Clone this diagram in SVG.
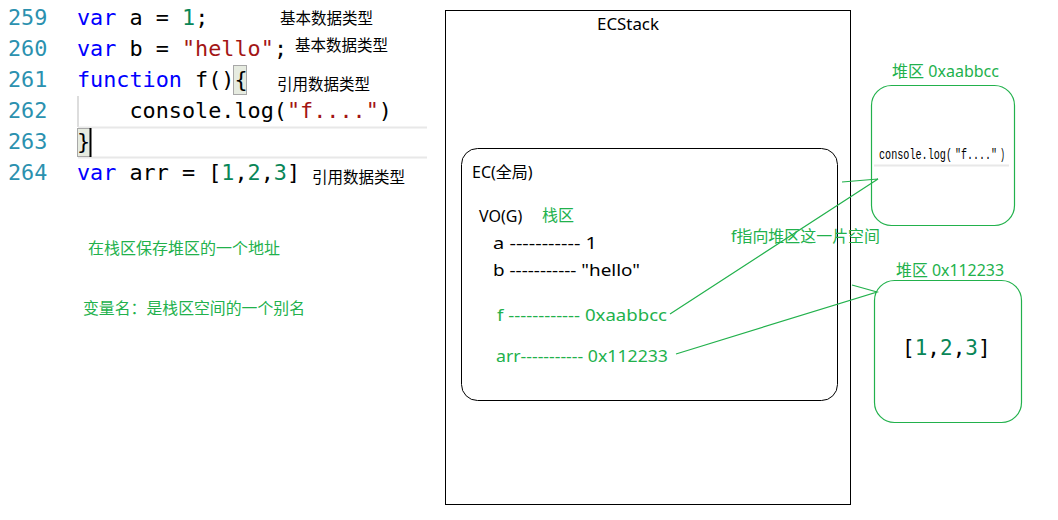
<svg xmlns="http://www.w3.org/2000/svg" width="1058" height="520" viewBox="0 0 1058 520">
<style>
.code{font-family:"DejaVu Sans Mono","Liberation Mono",monospace;font-size:21.8px;fill:#000}
.ln{fill:#2b91af}
.kw{fill:#0000ff}
.num{fill:#098658}
.str{fill:#a31515}
.note{font-family:"Noto Sans CJK SC","Noto Sans",sans-serif;font-size:15.5px;fill:#000}
.lbl{font-family:"Noto Sans","Noto Sans CJK SC",sans-serif;font-size:16px;fill:#000}
.mini{font-family:"Liberation Mono",monospace;font-size:14px;fill:#000}
.gl{fill:none;stroke:#22b14c;stroke-width:1.2}
.g{fill:#22b14c}
</style>
<rect width="1058" height="520" fill="#fff"/>
<g id="code">
<line x1="78" y1="96" x2="78" y2="127" stroke="#bbb" stroke-width="1"/>
<line x1="78" y1="127.5" x2="427" y2="127.5" stroke="#e8e8e8" stroke-width="2"/>
<line x1="78" y1="157.5" x2="427" y2="157.5" stroke="#e8e8e8" stroke-width="2"/>
<rect x="233.5" y="65.5" width="13" height="29" fill="#e6ebe0" stroke="#a8a8a8"/>
<rect x="77.5" y="128.5" width="13" height="28" fill="#e6ebe0" stroke="#a8a8a8"/>
<line x1="90.5" y1="128" x2="90.5" y2="157" stroke="#000" stroke-width="2"/>
<text class="code" x="8" y="25"><tspan class="ln">259</tspan></text>
<text class="code" x="8" y="56"><tspan class="ln">260</tspan></text>
<text class="code" x="8" y="87"><tspan class="ln">261</tspan></text>
<text class="code" x="8" y="118"><tspan class="ln">262</tspan></text>
<text class="code" x="8" y="149"><tspan class="ln">263</tspan></text>
<text class="code" x="8" y="180"><tspan class="ln">264</tspan></text>
<text class="code" x="77" y="25" xml:space="preserve"><tspan class="kw">var</tspan> a = <tspan class="num">1</tspan>;</text>
<text class="code" x="77" y="56" xml:space="preserve"><tspan class="kw">var</tspan> b = <tspan class="str">"hello"</tspan>;</text>
<text class="code" x="77" y="87" xml:space="preserve"><tspan class="kw">function</tspan> f(){</text>
<text class="code" x="77" y="118" xml:space="preserve">    console.log(<tspan class="str">"f...."</tspan>)</text>
<text class="code" x="77" y="149">}</text>
<text class="code" x="77" y="180" xml:space="preserve"><tspan class="kw">var</tspan> arr = [<tspan class="num">1</tspan>,<tspan class="num">2</tspan>,<tspan class="num">3</tspan>]</text>
<text class="note" x="280" y="24">基本数据类型</text>
<text class="note" x="295" y="51">基本数据类型</text>
<text class="note" x="277" y="90">引用数据类型</text>
<text class="note" x="312" y="183">引用数据类型</text>
<text class="note g" x="88" y="254" font-size="16" textLength="192" lengthAdjust="spacingAndGlyphs">在栈区保存堆区的一个地址</text>
<text class="note g" x="83" y="314" font-size="16" textLength="222" lengthAdjust="spacingAndGlyphs">变量名：是栈区空间的一个别名</text>
</g>
<g id="ecstack">
<rect x="445.5" y="10.5" width="405" height="494" fill="none" stroke="#000" stroke-width="1"/>
<text class="lbl" x="597" y="30" textLength="62" lengthAdjust="spacingAndGlyphs">ECStack</text>
</g>
<g id="ec">
<rect x="461.5" y="148.5" width="376" height="252" rx="16" fill="none" stroke="#000" stroke-width="1"/>
<text class="lbl" x="472" y="178">EC(全局)</text>
<text class="lbl" x="479" y="222">VO(G)</text>
<text class="lbl g" x="542" y="221">栈区</text>
<text class="lbl" x="493" y="249" textLength="104" lengthAdjust="spacingAndGlyphs">a ----------- 1</text>
<text class="lbl" x="493" y="276" textLength="147" lengthAdjust="spacingAndGlyphs">b ----------- "hello"</text>
<text class="lbl g" x="497" y="321" textLength="170" lengthAdjust="spacingAndGlyphs">f ------------ 0xaabbcc</text>
<text class="lbl g" x="496" y="362" textLength="172" lengthAdjust="spacingAndGlyphs">arr----------- 0x112233</text>
<text class="lbl g" x="731" y="242" textLength="149" lengthAdjust="spacingAndGlyphs">f指向堆区这一片空间</text>
</g>
<g id="heap1">
<text class="lbl g" x="892" y="77" textLength="107" lengthAdjust="spacingAndGlyphs">堆区 0xaabbcc</text>
<rect x="871.5" y="85.5" width="143" height="140" rx="20" fill="#fff" stroke="#22b14c" stroke-width="1.2"/>
<line x1="874" y1="165.5" x2="1009" y2="165.5" stroke="#e8e8e8" stroke-width="2"/>
<text class="mini" x="879" y="159" textLength="73" lengthAdjust="spacingAndGlyphs">console.log(</text>
<text class="mini str" x="955" y="159" textLength="42" lengthAdjust="spacingAndGlyphs">"f...."</text>
<text class="mini" x="1000" y="159" textLength="5" lengthAdjust="spacingAndGlyphs">)</text>
</g>
<g id="heap2">
<text class="lbl g" x="896" y="276" textLength="108" lengthAdjust="spacingAndGlyphs">堆区 0x112233</text>
<rect x="874.5" y="280.5" width="147" height="142" rx="20" fill="#fff" stroke="#22b14c" stroke-width="1.2"/>
<text x="902" y="355" font-family="DejaVu Sans Mono,monospace" font-size="21" fill="#000" xml:space="preserve">[<tspan class="num">1</tspan>,<tspan class="num">2</tspan>,<tspan class="num">3</tspan>]</text>
</g>
<g id="connectors">
<polyline class="gl" points="670,314 878,179 842,182"/>
<polyline class="gl" points="676,354 877,292 852,285"/>
</g>
</svg>
